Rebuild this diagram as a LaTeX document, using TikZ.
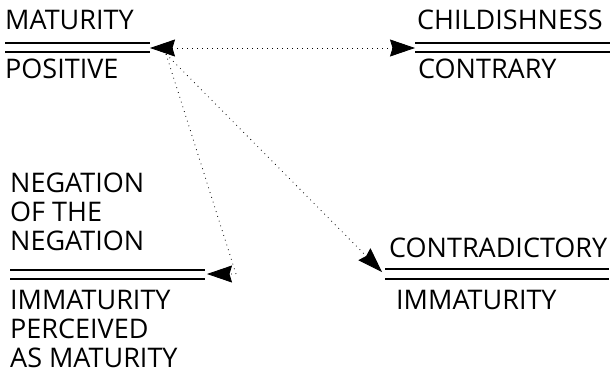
\documentclass[tikz,border=0pt]{standalone}
\usepackage{fontspec}
\setmainfont{Open Sans}
\usetikzlibrary{arrows.meta}

\tikzset{
  term/.style={inner sep=0pt, anchor=base west, align=left,
               font=\fontsize{27}{29}\selectfont},
  rule/.style={line width=1.6pt},
  head/.tip={Stealth[length=25pt,width=17pt,inset=2.5pt,sep=0pt]},
  link/.style={line width=0.8pt, dash pattern=on 0.8pt off 4.2pt, -head},
}

\begin{document}
\begin{tikzpicture}[x=1pt, y=-1pt]
  \useasboundingbox (0,0) rectangle (612,378);

  \node[term] (maturity) at (5,29) {MATURITY};
  \node[term] (positive) at (5,78) {POSITIVE};
  \draw[rule] (5,43) -- (150,43) (5,52) -- (150,52);
  \coordinate (matTip) at (150,48);
  \coordinate (matFoot) at (166,54);

  \node[term] (childish) at (417,29) {CHILDISHNESS};
  \node[term] (contrary) at (418,78) {CONTRARY};
  \draw[rule] (415,43) -- (610,43) (415,52) -- (610,52);
  \coordinate (childTip) at (415,48);

  \node[term] (negneg) at (10,250) {NEGATION\\OF THE\\NEGATION};
  \node[term] (perceived) at (10,367) {IMMATURITY\\PERCEIVED\\AS MATURITY};
  \draw[rule] (10,270) -- (205,270) (10,279) -- (205,279);
  \coordinate (negTip) at (207,274);
  \coordinate (negBend) at (236,274);

  \node[term] (contradict) at (389,257) {CONTRADICTORY};
  \node[term] (immaturity) at (396,309) {IMMATURITY};
  \draw[rule] (385,269) -- (609,269) (385,279) -- (609,279);
  \coordinate (contraTip) at (382,272);

  \draw[link, head-head] (matTip) -- (childTip);
  \draw[link] (matFoot) -- (negBend) -- (negTip);
  \draw[link] (matFoot) -- (contraTip);
\end{tikzpicture}
\end{document}
